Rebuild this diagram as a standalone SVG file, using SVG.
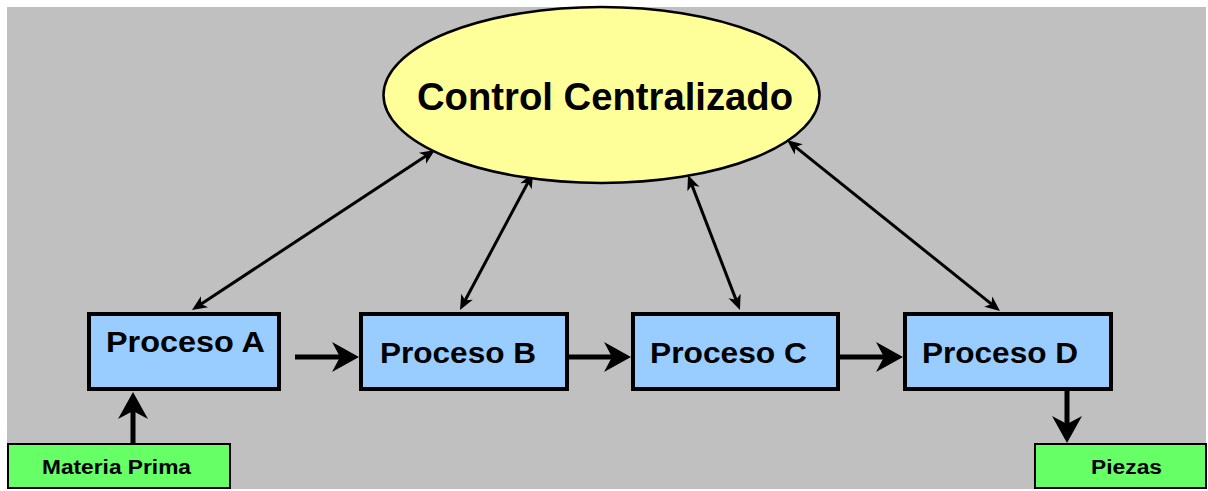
<svg xmlns="http://www.w3.org/2000/svg" width="1208" height="491" viewBox="0 0 1208 491">
<style>
.proc{fill:#99CCFF;stroke:#000;stroke-width:4}
.io{fill:#66FF66;stroke:#000;stroke-width:2}
.t{font-family:"Liberation Sans",Arial,sans-serif;font-weight:bold;fill:#000}
.big{stroke:#000;stroke-width:5;fill:none;marker-end:url(#bigHead)}
.thin{stroke:#000;stroke-width:3;fill:none;marker-start:url(#smallHead);marker-end:url(#smallHead)}
</style>
<defs>
<marker id="bigHead" markerUnits="userSpaceOnUse" viewBox="-28 -16 29 32" markerWidth="29" markerHeight="32" refX="-10" refY="0" orient="auto">
<path d="M0,0 L-27,-15 L-19,0 L-27,15 Z" fill="#000"/>
</marker>
<marker id="smallHead" markerUnits="userSpaceOnUse" viewBox="-16 -8 17 16" markerWidth="17" markerHeight="16" refX="-6" refY="0" orient="auto-start-reverse">
<path d="M0,0 L-15,-6.5 L-11,0 L-15,6.5 Z" fill="#000"/>
</marker>
</defs>
<rect x="0" y="0" width="1208" height="491" fill="#fff"/>
<rect x="7" y="7" width="1199" height="482" fill="#C0C0C0"/>
<g id="connectors">
<line class="thin" x1="197" y1="306.7" x2="430" y2="153.3"/>
<line class="thin" x1="462.8" y1="304.7" x2="530.2" y2="178.3"/>
<line class="thin" x1="690.2" y1="180.6" x2="737.8" y2="304.4"/>
<line class="thin" x1="791.7" y1="143.8" x2="995.3" y2="307.2"/>
<line class="big" x1="133" y1="443" x2="133" y2="402"/>
<line class="big" x1="295" y1="357" x2="349" y2="357"/>
<line class="big" x1="569" y1="357" x2="621" y2="357"/>
<line class="big" x1="840" y1="357" x2="893" y2="357"/>
<line class="big" x1="1067" y1="391" x2="1067" y2="433"/>
</g>
<g id="control">
<ellipse cx="601.5" cy="95" rx="218" ry="88" fill="#FFFF99" stroke="#000" stroke-width="2.5"/>
<text class="t" x="417" y="110" font-size="38.5" textLength="376" lengthAdjust="spacingAndGlyphs">Control Centralizado</text>
</g>
<g id="procesoA">
<rect class="proc" x="89" y="314" width="190" height="75"/>
<text class="t" x="106" y="352" font-size="29.5" textLength="159" lengthAdjust="spacingAndGlyphs">Proceso A</text>
</g>
<g id="procesoB">
<rect class="proc" x="361" y="314" width="206" height="75"/>
<text class="t" x="380" y="363" font-size="29.5" textLength="156" lengthAdjust="spacingAndGlyphs">Proceso B</text>
</g>
<g id="procesoC">
<rect class="proc" x="633" y="314" width="205" height="75"/>
<text class="t" x="650" y="363" font-size="29.5" textLength="157" lengthAdjust="spacingAndGlyphs">Proceso C</text>
</g>
<g id="procesoD">
<rect class="proc" x="905" y="314" width="206" height="75"/>
<text class="t" x="922" y="363" font-size="29.5" textLength="156" lengthAdjust="spacingAndGlyphs">Proceso D</text>
</g>
<g id="materiaPrima">
<rect class="io" x="8" y="444" width="222" height="44"/>
<text class="t" x="42" y="474" font-size="20" textLength="149" lengthAdjust="spacingAndGlyphs">Materia Prima</text>
</g>
<g id="piezas">
<rect class="io" x="1035" y="444" width="171" height="44"/>
<text class="t" x="1091" y="474" font-size="20" textLength="71" lengthAdjust="spacingAndGlyphs">Piezas</text>
</g>
</svg>
